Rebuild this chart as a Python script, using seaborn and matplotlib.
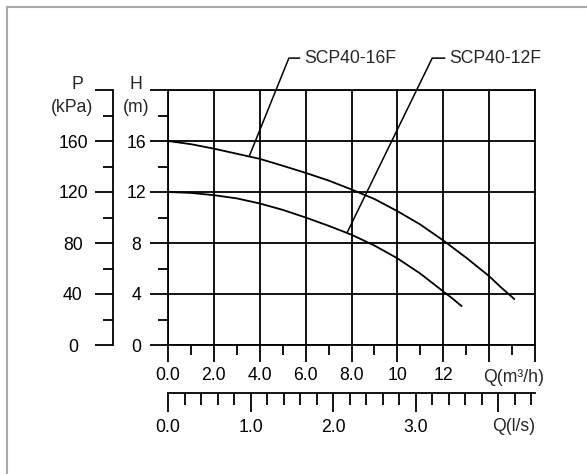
import matplotlib
matplotlib.use("Agg")
import matplotlib.pyplot as plt
import matplotlib.transforms as mtransforms
from matplotlib.lines import Line2D
from matplotlib.ticker import MultipleLocator, FuncFormatter
import seaborn as sns

# pump curves: flow Q (m3/h) -> head H (m)
q_16f = [0, 1, 2, 3, 4, 5, 6, 7, 8, 9, 10, 11, 12, 13, 14, 14.5, 15.1]
h_16f = [16.0, 15.75, 15.4, 15.0, 14.6, 14.06, 13.5, 12.9, 12.2, 11.45,
         10.5, 9.45, 8.2, 6.85, 5.4, 4.55, 3.6]
q_12f = [0, 1, 2, 3, 4, 5, 6, 7, 8, 9, 10, 11, 12, 12.4, 12.8]
h_12f = [12.0, 11.93, 11.75, 11.5, 11.1, 10.6, 10.0, 9.35, 8.65, 7.8,
         6.8, 5.6, 4.2, 3.65, 3.05]
model_names = ["SCP40-16F", "SCP40-12F"]

sns.set_style("ticks")
plt.rcParams["font.family"] = ["Liberation Sans", "DejaVu Sans"]
plt.rcParams["font.size"] = 12.7

W, H = 587, 474
fig = plt.figure(figsize=(W / 100, H / 100), dpi=100)
fig.patch.set_facecolor("white")
ax = fig.add_axes([168 / W, (H - 345) / H, 367 / W, 255 / H])

lw = 1.3
sns.lineplot(x=q_16f, y=h_16f, ax=ax, color="black", lw=lw, sort=False)
sns.lineplot(x=q_12f, y=h_12f, ax=ax, color="black", lw=lw, sort=False)

ax.set_xlim(0, 16)
ax.set_ylim(0, 20)
ax.xaxis.set_major_locator(MultipleLocator(2))
ax.xaxis.set_minor_locator(MultipleLocator(1))
ax.yaxis.set_major_locator(MultipleLocator(4))
ax.yaxis.set_minor_locator(MultipleLocator(2))
ax.xaxis.set_major_formatter(FuncFormatter(
    lambda v, _: "" if v >= 14 else ("%.1f" % v if v < 10 else "%d" % v)))
ax.yaxis.set_major_formatter(FuncFormatter(lambda v, _: "" if v >= 20 else "%d" % v))
ax.grid(which="major", color="black", lw=lw)
for s in ax.spines.values():
    s.set_color("black")
    s.set_linewidth(lw)
ax.tick_params(axis="x", which="major", length=12.2, width=lw, pad=4, colors="black")
ax.tick_params(axis="x", which="minor", length=7.2, width=lw, colors="black")
ax.tick_params(axis="y", which="major", length=13, width=lw, pad=10, colors="black")
ax.tick_params(axis="y", which="minor", length=7.2, width=lw, colors="black")
plt.setp(ax.get_yticklabels(), ha="center")

# pressure axis (kPa), 10 kPa per metre
pax = ax.secondary_yaxis(-55 / 367, functions=(lambda h: h * 10, lambda p: p / 10))
pax.yaxis.set_major_locator(MultipleLocator(40))
pax.yaxis.set_minor_locator(MultipleLocator(20))
pax.yaxis.set_major_formatter(FuncFormatter(lambda v, _: "" if v >= 200 else "%d" % v))
pax.spines["left"].set_linewidth(lw)
pax.spines["left"].set_color("black")
pax.tick_params(which="major", length=13, width=lw, pad=15.8, colors="black")
pax.tick_params(which="minor", length=7.2, width=lw, colors="black")
plt.setp(pax.get_yticklabels(), ha="center")

# flow axis in l/s
lax = ax.secondary_xaxis(-48 / 255, functions=(lambda q: q / 3.6, lambda l: l * 3.6))
lax.xaxis.set_major_locator(MultipleLocator(1))
lax.xaxis.set_minor_locator(MultipleLocator(0.2))
lax.xaxis.set_major_formatter(FuncFormatter(lambda v, _: "" if v >= 4 else "%.1f" % v))
lax.spines["bottom"].set_linewidth(lw)
lax.spines["bottom"].set_color("black")
lax.tick_params(which="major", length=13.7, width=lw, pad=5, colors="black")
lax.tick_params(which="minor", length=8.6, width=lw, colors="black")

# axis titles
ax.text(-0.087, 1.02, "H", transform=ax.transAxes, ha="center", va="center")
ax.text(-0.087, 0.933, "(m)", transform=ax.transAxes, ha="center", va="center")
ax.text(-0.248, 1.02, "P", transform=ax.transAxes, ha="center", va="center")
ax.text(-0.262, 0.933, "(kPa)", transform=ax.transAxes, ha="center", va="center")
bt = mtransforms.blended_transform_factory(ax.transData, ax.transAxes)
ax.text(15.07, -0.129, "Q(m³/h)", transform=bt, ha="center", va="center", clip_on=False)
ax.text(15.07, -0.318, "Q(l/s)", transform=bt, ha="center", va="center", clip_on=False)

# model labels with leader lines
ax.annotate(model_names[0], xy=(3.54, 14.8), xytext=(5.94, 22.5),
            ha="left", va="center", annotation_clip=False,
            arrowprops=dict(arrowstyle="-", color="black", lw=1.1, shrinkA=1, shrinkB=0,
                            connectionstyle="angle,angleA=0,angleB=68,rad=0"))
ax.annotate(model_names[1], xy=(7.82, 8.86), xytext=(12.27, 22.5),
            ha="left", va="center", annotation_clip=False,
            arrowprops=dict(arrowstyle="-", color="black", lw=1.1, shrinkA=1, shrinkB=0,
                            connectionstyle="angle,angleA=0,angleB=64,rad=0"))

# grey frame on top and left
fig.add_artist(Line2D([6.5 / W, 1], [1 - 7 / H, 1 - 7 / H], color="#aaaaaa", lw=1.5))
fig.add_artist(Line2D([6.5 / W, 6.5 / W], [0, 1 - 7 / H], color="#aaaaaa", lw=1.5))

fig.savefig("out.png", dpi=100, facecolor="white")
